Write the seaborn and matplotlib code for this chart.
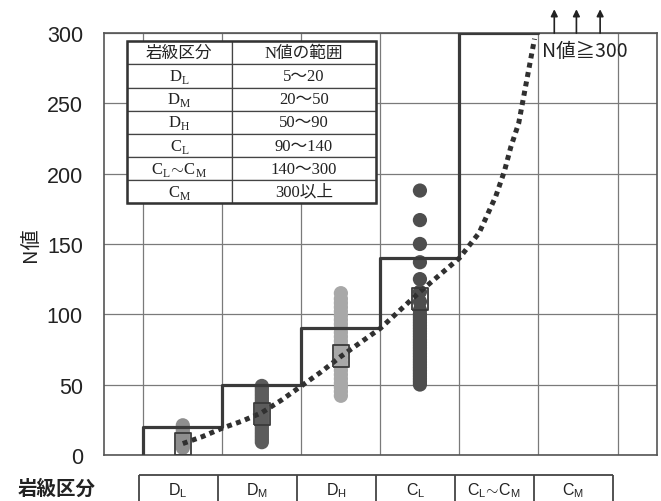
import pandas as pd
import seaborn as sns
import matplotlib
import matplotlib.pyplot as plt
from matplotlib.patches import Rectangle

matplotlib.use('Agg')

# rock classes along the x axis
classes = ["DL", "DM", "DH", "CL", "CL~CM", "CM"]
class_main = ["D", "D", "D", "C", None, "C"]
class_sub = ["L", "M", "H", "L", None, "M"]
n_ranges = ["5～20", "20～50", "50～90", "90～140", "140～300", "300以上"]

# upper N value of each class (step line)
n_upper = [20, 50, 90, 140, 300]

# measured N values
dl_n = [5, 7, 9, 11, 13, 15, 17, 19, 21]
dm_n = [9, 11, 13, 15, 17, 19, 21, 23, 25, 27, 29, 31, 33, 35, 37, 39, 41, 43, 45, 47, 49]
dh_n = [42, 45, 48, 51, 54, 57, 60, 63, 66, 69, 72, 75, 78, 81, 84, 87, 90, 93, 96,
        99, 102, 105, 108, 111, 115]
cl_n = [50, 52, 54, 56, 58, 60, 62, 64, 66, 68, 70, 72, 74, 76, 78, 80, 82, 84, 86,
        88, 90, 92, 94, 96, 98, 100, 103, 109, 116, 125, 137, 150, 167, 188]
point_colors = ["#8e8e8e", "#5c5c5c", "#a8a8a8", "#4e4e4e"]

# mean value of each class (box markers)
mean_n = [8, 29, 70, 111]

# trend curve
curve_x = [0, 0.25, 0.5, 0.75, 1.0, 1.25, 1.5, 1.75, 2.0, 2.25, 2.5, 2.75, 3.0,
           3.25, 3.5, 3.75, 3.96, 4.07, 4.15, 4.25, 4.32, 4.45]
curve_n = [8, 13, 19, 24, 30, 39, 49, 59, 70, 80, 90, 103, 116, 128, 140, 158, 184,
           202, 219, 236, 257, 296]

sns.set_style("white")
plt.rcParams['font.family'] = ['Liberation Sans', 'Noto Sans CJK JP']
plt.rcParams['mathtext.fontset'] = 'custom'
plt.rcParams['mathtext.rm'] = 'Liberation Serif'
plt.rcParams['mathtext.sf'] = 'Liberation Sans'

dark = "#3a3a3a"
grid_c = "#7a7a7a"

fig = plt.figure(figsize=(6.61, 5.02), dpi=100)
ax = fig.add_axes([0.157, 0.092, 0.837, 0.840])

pos = list(range(len(classes)))
edges = [p - 0.5 for p in pos] + [pos[-1] + 0.5]

rows = []
for i, vals in enumerate([dl_n, dm_n, dh_n, cl_n]):
    for v in vals:
        rows.append({"cls": classes[i], "pos": pos[i], "N": v})
df = pd.DataFrame(rows)

sns.scatterplot(data=df, x="pos", y="N", hue="cls", palette=point_colors,
                s=105, edgecolor="none", legend=False, ax=ax, zorder=3)

# step line of class boundaries
step_x = [edges[0]] + edges[:len(n_upper) + 1]
step_y = [0] + n_upper + [n_upper[-1]]
ax.step(step_x, step_y, where="post", color=dark, lw=2.3, zorder=4)

# trend curve
sns.lineplot(x=curve_x, y=curve_n, ax=ax, color="#303030", lw=3.6,
             linestyle=(0, (1, 0.9)), sort=False, zorder=5)

# mean boxes
box = [(-0.36, -0.5), (0.36, -0.5), (0.36, 0.5), (-0.36, 0.5), (-0.36, -0.5)]
sns.scatterplot(x=pos[:len(mean_n)], y=mean_n, marker=box, s=250,
                facecolor="none", edgecolor=dark, linewidth=1.3, ax=ax, zorder=6)

ax.set_xlim(-1, 6)
ax.set_ylim(0, 300)
ax.set_xticks(edges)
ax.set_xticks(pos, minor=True)
ax.set_xticklabels([])
ax.set_yticks(range(0, 301, 50))
ax.set_yticks(range(0, 301, 10), minor=True)
ax.tick_params(axis="x", which="major", length=0)
ax.tick_params(axis="x", which="minor", direction="in", length=5, color=dark, width=1)
ax.tick_params(axis="y", which="major", direction="in", length=8, color=dark, width=1,
               labelsize=15.5, labelcolor="#222222", pad=15)
ax.tick_params(axis="y", which="minor", direction="in", length=5, color=dark, width=1)
ax.grid(True, which="major", color=grid_c, lw=0.9)
for s in ax.spines.values():
    s.set_color("#555555")
    s.set_linewidth(1.2)
ax.set_xlabel("")
ax.set_ylabel("N値", fontsize=14.5, color="#222222", labelpad=4,
              family=['Noto Sans CJK JP'])

# arrows above the CM region
for ax_x in [4.7, 4.98, 5.28]:
    ax.annotate("", xy=(ax_x, 317), xytext=(ax_x, 300), annotation_clip=False,
                arrowprops=dict(arrowstyle="-|>", color="#222222", lw=1.2,
                                mutation_scale=10, shrinkA=0, shrinkB=0))
ax.text(4.55, 288, "N値≧300", fontsize=14, color="#222222", va="center", ha="left",
        family=['Noto Sans CJK JP'], zorder=7)


# table of classes
def sub_label(i, font):
    if class_main[i] is None:
        return (r"$\math%s{C}_\math%s{L}\!\sim\!\math%s{C}_\math%s{M}$" % (font, font, font, font))
    return r"$\math%s{%s}_\math%s{%s}$" % (font, class_main[i], font, class_sub[i])


cell_text = [["岩級区分", "N値の範囲"]] + [[sub_label(i, "rm"), n_ranges[i]] for i in range(6)]
tab = ax.table(cellText=cell_text, cellLoc="center", colWidths=[0.42, 0.58],
               bbox=[0.042, 0.596, 0.45, 0.385], zorder=8)
tab.auto_set_font_size(False)
for (r, c), cell in tab.get_celld().items():
    cell.set_edgecolor("#444444")
    cell.set_linewidth(0.9)
    cell.set_facecolor("white")
    cell.get_text().set_fontsize(12)
    cell.get_text().set_color("#222222")
    cell.get_text().set_fontfamily(['Liberation Serif', 'Noto Sans CJK JP'])
ax.add_patch(Rectangle((0.042, 0.596), 0.45, 0.385, transform=ax.transAxes, fill=False,
                       edgecolor="#333333", lw=1.8, zorder=9))

# class band under the chart
bx = fig.add_axes([0.150, 0.0, 0.837, 0.052])
bx.set_xlim(-1, 6)
bx.set_ylim(0, 1)
bx.axis("off")
bx.hlines(1, edges[0], edges[-1], color="#444444", lw=1.3, clip_on=False)
bx.vlines(edges, 0, 1, color="#444444", lw=1.3, clip_on=False)
for i, p in enumerate(pos):
    bx.text(p, 0.45, sub_label(i, "sf"), ha="center", va="center", fontsize=11.5,
            color="#222222", family=['Liberation Sans', 'Noto Sans CJK JP'])
fig.text(0.145, 0.025, "岩級区分", ha="right", va="center", fontsize=14,
         fontweight="bold", color="#222222", family=['Noto Sans CJK JP'])

fig.savefig("out.png", dpi=100)
